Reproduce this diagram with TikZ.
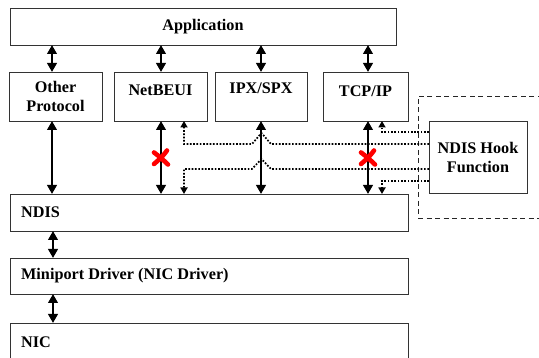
\documentclass[tikz,border=0pt]{standalone}
\usepackage{fontspec}
\setmainfont{Liberation Serif}
\usetikzlibrary{arrows.meta,calc}
\begin{document}
\begin{tikzpicture}[x=1pt,y=-1pt,
  box/.style={draw=black!80,line width=0.9pt,inner sep=0pt,outer sep=0pt,fill=white},
  lbl/.style={font=\fontsize{16.2}{19}\selectfont\bfseries,align=center,inner sep=0pt},
  dbl/.style={line width=2.9pt,{Triangle[length=9pt,width=9.5pt]}-{Triangle[length=9pt,width=9.5pt]}},
  hookpath/.style={line width=1.7pt,dash pattern=on 1.7pt off 1.6pt,-{Triangle[length=6.5pt,width=7pt]}},
  zonebox/.style={draw=black!85,line width=0.8pt,dash pattern=on 5pt off 3.5pt,inner sep=0pt,outer sep=0pt},
  cross/.style={red,line width=4.6pt,line cap=round},
  blocked/.pic={
    \draw[cross] (-7,-5.5) .. controls (-1,-1) .. (7,6.5);
    \draw[cross] (6,-7.5) .. controls (1,-1) .. (-7,6);
  },
]
\clip (0,0) rectangle (539,358);
\fill[white] (0,0) rectangle (539,358);

% application layer
\node[box,lbl,minimum width=386pt,minimum height=37pt] (app) at (203,26.5) {Application};

% protocol stacks
\node[box,minimum width=93pt,minimum height=49pt] (other)   at (55.5,96.5)  {};
\node[box,minimum width=93pt,minimum height=49pt] (netbeui) at (160.5,96.5) {};
\node[box,minimum width=92pt,minimum height=49pt] (ipx)     at (261,96.5)   {};
\node[box,minimum width=85pt,minimum height=49pt] (tcp)     at (365.5,96.5) {};
\node[lbl] (other-t)   at (other.center)               {Other\\Protocol};
\node[lbl] (netbeui-t) at ([yshift=-18pt]netbeui.north) {NetBEUI};
\node[lbl] (ipx-t)     at ([yshift=-16pt]ipx.north)     {IPX/SPX};
\node[lbl] (tcp-t)     at ([yshift=-19pt]tcp.north)     {TCP/IP};

% lower layers
\node[box,minimum width=398pt,minimum height=37pt] (ndis) at (209,212.5) {};
\node[box,minimum width=398pt,minimum height=36pt] (mini) at (209,276)   {};
\node[box,minimum width=398pt,minimum height=48pt] (nic)  at (209,347)   {};
\node[lbl,anchor=west] (ndis-t) at ([xshift=11pt]ndis.west) {NDIS};
\node[lbl,anchor=west] (mini-t) at ([xshift=11pt]mini.west) {Miniport Driver (NIC Driver)};
\node[lbl,anchor=west] (nic-t)  at ([xshift=11pt,yshift=-19pt]nic.north west) {NIC};

% hook function and its region
\node[zonebox,minimum width=150pt,minimum height=122pt] (zone) at (493,157) {};
\node[box,lbl,minimum width=98pt,minimum height=72pt] (hook) at (478,157) {NDIS Hook\\Function};

% column positions of the stack connectors
\coordinate (xo) at (52,0);
\coordinate (xn) at (161,0);
\coordinate (xi) at (261,0);
\coordinate (xt) at (368,0);
\coordinate (xm) at (53,0);
\coordinate (hn) at (184,0);
\coordinate (ht) at (382,0);
\coordinate (y1) at (0,132);
\coordinate (y2) at (0,144);
\coordinate (y3) at (0,169);
\coordinate (y4) at (0,181);

% redirected paths through the hook
\draw[hookpath] (hook.west |- y2) -- (271,144) -- (261.5,133) -- (252,144)
  -- (hn |- y2) -- (hn |- netbeui.south);
\draw[hookpath] (hook.west |- y3) -- (271,169) -- (261.5,159) -- (252,169)
  -- (hn |- y3) -- (hn |- ndis.north);
\draw[hookpath] (hook.west |- y1) -- (ht |- y1) -- (ht |- tcp.south);
\draw[hookpath] (hook.west |- y4) -- (ht |- y4) -- (ht |- ndis.north);

% application to protocols
\draw[dbl] (xo |- app.south) -- (xo |- other.north);
\draw[dbl] (xn |- app.south) -- (xn |- netbeui.north);
\draw[dbl] (xi |- app.south) -- (xi |- ipx.north);
\draw[dbl] (xt |- app.south) -- (xt |- tcp.north);

% protocols to NDIS
\draw[dbl] (xo |- other.south) -- (xo |- ndis.north);
\draw[dbl] (xn |- netbeui.south) -- (xn |- ndis.north);
\draw[dbl] (xi |- ipx.south) -- (xi |- ndis.north);
\draw[dbl] (xt |- tcp.south) -- (xt |- ndis.north);

% NDIS down to the card
\draw[dbl] (xm |- ndis.south) -- (xm |- mini.north);
\draw[dbl] (xm |- mini.south) -- (xm |- nic.north);

% blocked direct paths
\pic at (161,158) {blocked};
\pic at (368,158) {blocked};
\end{tikzpicture}
\end{document}
